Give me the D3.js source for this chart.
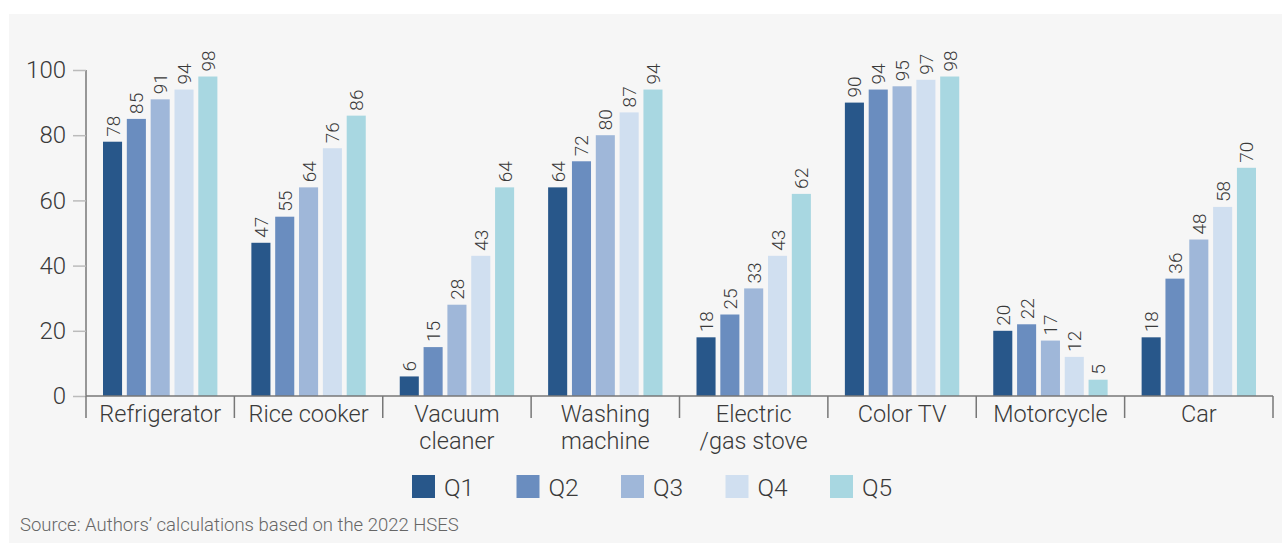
<!DOCTYPE html>
<html>
<head>
<meta charset="utf-8">
<script src="https://cdn.jsdelivr.net/npm/d3@7"></script>
<style>
  body { margin: 0; background: #fff; }
  svg text { font-family: Roboto, "Noto Sans", sans-serif; fill: #3a3a3a; }
</style>
</head>
<body>
<svg id="chart" width="1282" height="543"></svg>
<script>
// Donnees.
const categories = [
    ["Refrigerator"], ["Rice cooker"], ["Vacuum", "cleaner"], ["Washing", "machine"],
    ["Electric", "/gas stove"], ["Color TV"], ["Motorcycle"], ["Car"]
];
const quintiles = ["Q1", "Q2", "Q3", "Q4", "Q5"];
const q1 = [78, 47, 6, 64, 18, 90, 20, 18];
const q2 = [85, 55, 15, 72, 25, 94, 22, 36];
const q3 = [91, 64, 28, 80, 33, 95, 17, 48];
const q4 = [94, 76, 43, 87, 43, 97, 12, 58];
const q5 = [98, 86, 64, 94, 62, 98, 5, 70];
const yTicks = [0, 20, 40, 60, 80, 100];
const colors = ["#28578a", "#6a8dbf", "#9fb7d9", "#d0dff0", "#a8d7e1"];
const sourceText = "Source: Authors\u2019 calculations based on the 2022 HSES";

const series = [q1, q2, q3, q4, q5];
const svg = d3.select("#chart");

// Fond gris du cadre.
svg.append("rect").attr("x", 9).attr("y", 14).attr("width", 1273).attr("height", 529).attr("fill", "#f6f6f6");

const margin = { left: 86, right: 1273, top: 70, bottom: 396 };

const x0 = d3.scaleBand()
    .domain(d3.range(categories.length))
    .range([margin.left, margin.right]);

const x1 = d3.scaleBand()
    .domain(quintiles)
    .range([17, x0.bandwidth() - 17])
    .paddingInner(0.2);

const y = d3.scaleLinear().domain([0, 100]).range([margin.bottom, margin.top]);

// Axe Y.
const yAxis = svg.append("g")
    .attr("transform", "translate(" + margin.left + ",0)")
    .call(d3.axisLeft(y).tickValues(yTicks).tickSize(13).tickPadding(7));
yAxis.select(".domain").attr("stroke", "#777").attr("stroke-width", 1.5).attr("d", "M0," + margin.top + "V" + margin.bottom);
yAxis.selectAll(".tick line").attr("stroke", "#bbb").attr("stroke-width", 1.5);
yAxis.selectAll(".tick text")
    .attr("font-size", 24)
    .attr("font-weight", 300)
    .attr("font-family", "Roboto, sans-serif")
    .attr("fill", "#3a3a3a");

// Barres.
const groups = svg.selectAll(".cat")
    .data(categories)
    .enter()
    .append("g")
    .attr("class", "cat")
    .attr("transform", function(d, i) { return "translate(" + x0(i) + ",0)"; });

groups.each(function(d, i) {
    const g = d3.select(this);
    quintiles.forEach(function(q, k) {
        const v = series[k][i];
        g.append("rect")
            .attr("x", x1(q))
            .attr("y", y(v))
            .attr("width", x1.bandwidth())
            .attr("height", y(0) - y(v))
            .attr("fill", colors[k]);
        g.append("text")
            .attr("transform", "translate(" + (x1(q) + x1.bandwidth() / 2 + 7) + "," + (y(v) - 5) + ") rotate(-90)")
            .attr("font-size", 19)
            .attr("font-weight", 300)
            .text(v);
    });
});

// Axe X avec separateurs.
svg.append("line")
    .attr("x1", margin.left).attr("x2", margin.right)
    .attr("y1", margin.bottom).attr("y2", margin.bottom)
    .attr("stroke", "#777").attr("stroke-width", 1.5);

d3.range(categories.length + 1).forEach(function(i) {
    const xx = i < categories.length ? x0(i) : margin.right;
    svg.append("line")
        .attr("x1", xx).attr("x2", xx)
        .attr("y1", margin.bottom).attr("y2", margin.bottom + 22)
        .attr("stroke", "#777").attr("stroke-width", 1.5);
});

groups.each(function(d) {
    const t = d3.select(this).append("text")
        .attr("text-anchor", "middle")
        .attr("font-size", 23.5)
        .attr("font-weight", 300)
        .attr("y", 422);
    d.forEach(function(line, j) {
        t.append("tspan")
            .attr("x", x0.bandwidth() / 2)
            .attr("dy", j === 0 ? 0 : 27)
            .text(line);
    });
});

// Legende.
const legend = svg.selectAll(".legend")
    .data(quintiles)
    .enter()
    .append("g")
    .attr("transform", function(d, i) { return "translate(" + (412 + i * 104.5) + ",475)"; });
legend.append("rect").attr("width", 23).attr("height", 23).attr("fill", function(d, i) { return colors[i]; });
legend.append("text").attr("x", 32).attr("y", 20.5).attr("font-size", 24.5).attr("font-weight", 300).text(function(d) { return d; });

// Source.
svg.append("text")
    .attr("x", 20).attr("y", 531)
    .attr("font-size", 18.5)
    .attr("font-weight", 300)
    .style("fill", "#666")
    .text(sourceText);
</script>
</body>
</html>
